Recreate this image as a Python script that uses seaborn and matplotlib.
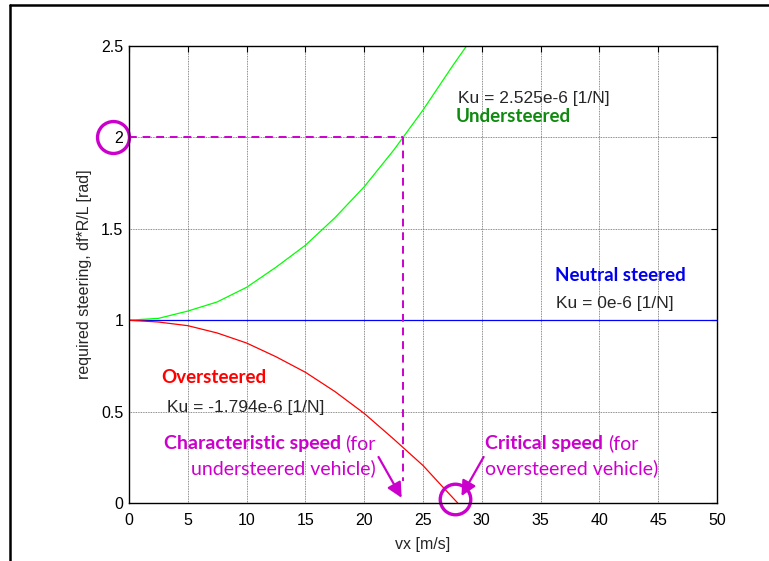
import matplotlib
matplotlib.use("Agg")
import matplotlib.pyplot as plt
from matplotlib.lines import Line2D
import seaborn as sns
import numpy as np

# values
vx_under = [0, 2.5, 5, 7.5, 10, 12.5, 15, 17.5, 20, 22.5, 23.3, 25, 27.5, 28.7]
steer_under = [1.0, 1.01, 1.05, 1.10, 1.18, 1.29, 1.41, 1.56, 1.73, 1.93, 2.0, 2.15, 2.39, 2.5]

vx_neutral = [0, 50]
steer_neutral = [1.0, 1.0]

vx_over = [0, 2.5, 5, 7.5, 10, 12.5, 15, 17.5, 20, 22.5, 25, 26.5, 27.95]
steer_over = [1.0, 0.99, 0.97, 0.93, 0.875, 0.80, 0.715, 0.61, 0.49, 0.35, 0.205, 0.10, 0.0]

char_speed = 23.3
char_steer = 2.0
crit_speed = 27.95

x_ticks = [0, 5, 10, 15, 20, 25, 30, 35, 40, 45, 50]
y_ticks = [0, 0.5, 1, 1.5, 2, 2.5]
y_tick_labels = ['0', '0.5', '1', '1.5', '2', '2.5']

MAGENTA = '#cc00cc'
NOTE_FONT = ['Lato', 'DejaVu Sans']
LABEL_SIZE = 13.5
NOTE_SIZE = 14
KU_SIZE = 12.5

sns.set_style("white")
plt.rcParams['font.family'] = ['Liberation Sans', 'DejaVu Sans']

fig = plt.figure(figsize=(7.69, 5.61), dpi=100)
ax = fig.add_axes([0.1678, 0.1034, 0.7646, 0.8146])

sns.lineplot(x=vx_under, y=steer_under, color='#00ff00', lw=0.9, ax=ax)
sns.lineplot(x=vx_neutral, y=steer_neutral, color='#0000ff', lw=0.9, ax=ax)
sns.lineplot(x=vx_over, y=steer_over, color='#ff0000', lw=0.9, ax=ax)

ax.set_xlim(0, 50)
ax.set_ylim(0, 2.5)
ax.set_xticks(x_ticks)
ax.set_xticklabels([str(t) for t in x_ticks])
ax.set_yticks(y_ticks)
ax.set_yticklabels(y_tick_labels)
ax.tick_params(direction='in', length=4, width=0.8, top=True, right=True,
               labelsize=11.5, colors='black')
ax.tick_params(axis='x', pad=7)
ax.tick_params(axis='y', pad=4)
ax.grid(True, color='0.4', linestyle=(0, (1, 1)), lw=0.6)
for s in ax.spines.values():
    s.set_color('black')
    s.set_linewidth(1.0)
ax.set_xlabel('vx [m/s]', fontsize=11.5, labelpad=7)
ax.set_ylabel('required steering, df*R/L [rad]', fontsize=11.5, labelpad=7)

# dashed guide lines at characteristic speed
ax.plot([0, char_speed], [char_steer, char_steer], color=MAGENTA, ls=(0, (4, 3)), lw=1.4)
ax.plot([char_speed, char_speed], [char_steer, 0.12], color=MAGENTA, ls=(0, (4, 3)), lw=1.4)

# curve labels
ax.text(27.98, 2.215, 'Ku = 2.525e-6 [1/N]', fontsize=KU_SIZE, va='center')
ax.text(27.8, 2.117, 'Understeered', fontsize=LABEL_SIZE, fontweight='bold',
        color='#0e8a0e', family=NOTE_FONT, va='center')
ax.text(36.2, 1.242, 'Neutral steered', fontsize=LABEL_SIZE, fontweight='bold',
        color='#0000ee', family=NOTE_FONT, va='center')
ax.text(36.3, 1.094, 'Ku = 0e-6 [1/N]', fontsize=KU_SIZE, va='center')
ax.text(2.7, 0.684, 'Oversteered', fontsize=LABEL_SIZE, fontweight='bold',
        color='#ff0000', family=NOTE_FONT, va='center')
ax.text(3.2, 0.52, 'Ku = -1.794e-6 [1/N]', fontsize=KU_SIZE, va='center')

# characteristic speed note (right aligned)
t1 = ax.text(21.0, 0.328, '(for', fontsize=NOTE_SIZE, color=MAGENTA,
             family=NOTE_FONT, ha='right', va='center')
ax.annotate('Characteristic speed ', xy=(0, 0.5), xycoords=t1, fontsize=NOTE_SIZE,
            fontweight='bold', color=MAGENTA, family=NOTE_FONT, ha='right', va='center')
ax.text(21.0, 0.191, 'understeered vehicle)', fontsize=NOTE_SIZE, color=MAGENTA,
        family=NOTE_FONT, ha='right', va='center')

# critical speed note (left aligned)
t2 = ax.text(30.27, 0.328, 'Critical speed ', fontsize=NOTE_SIZE, fontweight='bold',
             color=MAGENTA, family=NOTE_FONT, ha='left', va='center')
ax.annotate('(for', xy=(1, 0.5), xycoords=t2, fontsize=NOTE_SIZE, color=MAGENTA,
            family=NOTE_FONT, ha='left', va='center')
ax.text(30.3, 0.191, 'oversteered vehicle)', fontsize=NOTE_SIZE, color=MAGENTA,
        family=NOTE_FONT, ha='left', va='center')

# arrows
arrow_style = dict(arrowstyle='-|>,head_length=0.9,head_width=0.45', color=MAGENTA, lw=1.6)
ax.annotate('', xy=(char_speed, 0.015), xytext=(21.1, 0.265),
            arrowprops=arrow_style, annotation_clip=False)
ax.annotate('', xy=(crit_speed + 0.2, 0.025), xytext=(30.27, 0.265),
            arrowprops=arrow_style, annotation_clip=False)

# highlight circles
ax.plot([-1.36], [char_steer], 'o', ms=23, mfc='none', mec=MAGENTA, mew=2.4, clip_on=False)
ax.plot([crit_speed - 0.25], [0.022], 'o', ms=22, mfc='none', mec=MAGENTA, mew=2.4, clip_on=False)

# frame of the original screenshot
fig.add_artist(Line2D([10 / 769, 10 / 769], [0, 1 - 5 / 561], color='black', lw=1.8))
fig.add_artist(Line2D([10 / 769, 1], [1 - 5 / 561, 1 - 5 / 561], color='black', lw=1.8))

fig.savefig('out.png', dpi=100)
